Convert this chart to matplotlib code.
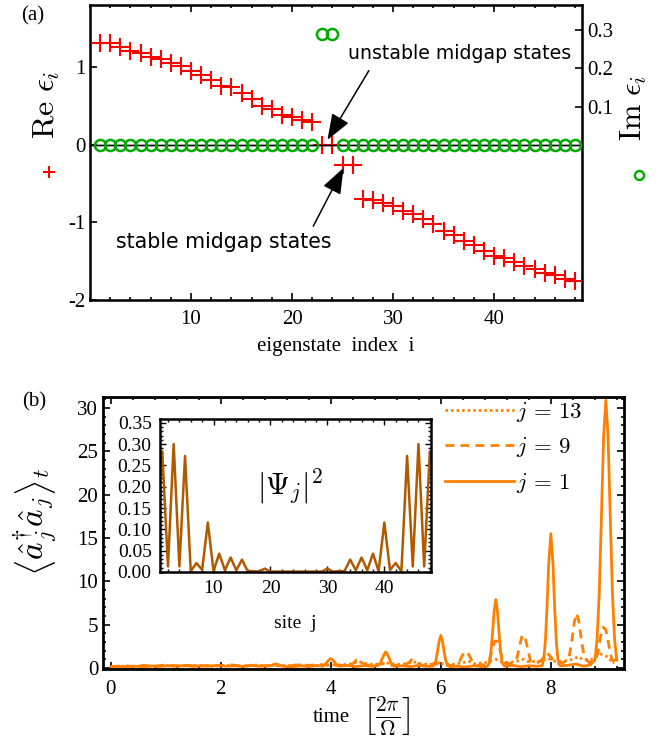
"""
Eigenvalue spectrum (a) and occupation dynamics with edge-state inset (b).
"""

import matplotlib.pyplot as plt
from matplotlib.lines import Line2D
from matplotlib.ticker import MultipleLocator

plt.rcParams["font.family"] = ["Liberation Serif", "DejaVu Serif"]
plt.rcParams["mathtext.fontset"] = "cm"
plt.rcParams["axes.unicode_minus"] = False
plt.rcParams["xtick.direction"] = "in"
plt.rcParams["ytick.direction"] = "in"

RED = "#ff0000"
GREEN = "#00aa00"
ORANGE = "#ff8000"
BROWN = "#b05a00"
W, H = 672, 746

# ---- panel (a): eigenvalues ----
INDEX = list(range(1, 49))
RE_EIG = [
    1.31, 1.30, 1.26, 1.20, 1.175, 1.125, 1.10, 1.045, 1.005, 0.94, 0.90,
    0.835, 0.75, 0.74, 0.66, 0.58, 0.49, 0.455, 0.385, 0.36, 0.32, 0.29,
    0.0, 0.0, -0.265, -0.265,
    -0.705, -0.715, -0.75, -0.79, -0.855, -0.895, -0.96, -1.025, -1.11,
    -1.165, -1.24, -1.295, -1.365, -1.44, -1.455, -1.515, -1.56, -1.60,
    -1.655, -1.68, -1.73, -1.75,
]
IM_EIG = [0.0] * 22 + [0.29, 0.29] + [0.0] * 24

# ---- panel (b): occupation vs time ----
T1 = [
    0.0, 0.15, 0.3, 0.45, 0.6, 0.75, 0.9, 1.05, 1.2, 1.35, 1.5, 1.65, 1.8, 1.95, 2.1, 2.25, 2.4, 2.55, 2.7, 2.85,
    2.92, 2.96, 3.0, 3.04, 3.08, 3.15, 3.3, 3.45, 3.6, 3.75, 3.85,
    3.9, 3.94, 3.97, 4.0, 4.03, 4.06, 4.1, 4.15, 4.3, 4.45, 4.6, 4.75, 4.85,
    4.9, 4.94, 4.97, 5.0, 5.03, 5.06, 5.1, 5.15, 5.3, 5.45, 5.6, 5.75, 5.85,
    5.88, 5.91, 5.94, 5.97, 6.0, 6.03, 6.06, 6.09, 6.12, 6.16, 6.3, 6.45, 6.6, 6.75, 6.85,
    6.88, 6.91, 6.94, 6.97, 7.0, 7.03, 7.06, 7.09, 7.12, 7.16, 7.3, 7.45, 7.6, 7.75, 7.84,
    7.87, 7.9, 7.93, 7.96, 8.0, 8.04, 8.07, 8.1, 8.13, 8.17, 8.3, 8.45, 8.6, 8.72,
    8.8, 8.84, 8.88, 8.92, 8.96, 9.0, 9.04, 9.08, 9.12, 9.16, 9.2,
]
N1 = [
    0.10, 0.15, 0.12, 0.20, 0.15, 0.22, 0.18, 0.25, 0.20, 0.28, 0.18, 0.25, 0.22, 0.30, 0.20, 0.25, 0.18, 0.28, 0.20, 0.22,
    0.30, 0.40, 0.46, 0.40, 0.30, 0.18, 0.12, 0.25, 0.15, 0.30, 0.20,
    0.40, 0.75, 0.95, 1.08, 0.95, 0.75, 0.40, 0.20, 0.30, 0.15, 0.28, 0.20, 0.25,
    0.50, 1.15, 1.55, 1.85, 1.55, 1.15, 0.50, 0.20, 0.25, 0.15, 0.30, 0.18, 0.20,
    0.35, 0.85, 1.90, 3.10, 3.75, 3.10, 1.90, 0.85, 0.35, 0.15, 0.20, 0.10, 0.25, 0.15, 0.20,
    0.55, 1.70, 3.95, 6.60, 7.90, 6.60, 3.95, 1.70, 0.55, 0.20, 0.30, 0.15, 0.25, 0.20, 0.25,
    0.95, 3.00, 6.90, 11.9, 15.5, 11.9, 6.90, 3.00, 0.95, 0.25, 0.30, 0.45, 0.20, 0.35,
    0.90, 3.20, 8.60, 17.5, 26.8, 30.9, 26.8, 17.5, 8.60, 3.20, 0.90,
]
T9 = [
    0.0, 0.2, 0.4, 0.6, 0.8, 1.0, 1.2, 1.4, 1.6, 1.8, 2.0, 2.2, 2.4, 2.6, 2.8, 3.0, 3.2, 3.4, 3.6, 3.8, 4.0, 4.2,
    4.35, 4.42, 4.47, 4.52, 4.57, 4.65, 4.8, 4.95, 5.1, 5.3,
    5.42, 5.47, 5.52, 5.57, 5.65, 5.8, 5.95, 6.1, 6.25,
    6.33, 6.38, 6.43, 6.48, 6.53, 6.58, 6.65, 6.8,
    6.88, 6.93, 6.98, 7.03, 7.08, 7.13, 7.2, 7.3,
    7.38, 7.43, 7.48, 7.53, 7.58, 7.63, 7.72,
    7.82, 7.88, 7.94, 8.0, 8.06, 8.15, 8.25,
    8.33, 8.38, 8.43, 8.47, 8.51, 8.56, 8.61, 8.7, 8.8,
    8.85, 8.9, 8.95, 9.0, 9.05, 9.1, 9.15, 9.2,
]
N9 = [
    0.15, 0.25, 0.20, 0.30, 0.20, 0.35, 0.25, 0.30, 0.20, 0.30, 0.25, 0.35, 0.20, 0.30, 0.25, 0.30, 0.20, 0.35, 0.30, 0.40, 0.30, 0.30,
    0.30, 0.60, 0.95, 0.95, 0.60, 0.30, 0.35, 0.50, 0.30, 0.30,
    0.60, 0.95, 0.95, 0.60, 0.30, 0.40, 0.60, 0.30, 0.30,
    0.60, 1.30, 1.85, 1.85, 1.30, 0.60, 0.30, 0.40,
    0.80, 2.00, 3.10, 3.10, 2.00, 0.80, 0.40, 0.60,
    1.00, 2.50, 3.80, 3.60, 2.20, 0.80, 0.50,
    0.80, 1.40, 1.70, 1.30, 0.60, 0.50, 0.70,
    1.20, 3.00, 5.40, 6.30, 5.40, 3.00, 1.20, 0.60, 0.90,
    1.60, 3.50, 4.70, 4.40, 2.80, 1.20, 0.60, 0.80,
]
T13 = [
    0.0, 0.2, 0.4, 0.6, 0.8, 1.0, 1.2, 1.4, 1.6, 1.8, 2.0, 2.2, 2.4, 2.6, 2.8, 3.0, 3.2, 3.4, 3.6, 3.8, 4.0,
    4.2, 4.4, 4.5, 4.6, 4.8, 5.0, 5.2, 5.4, 5.5, 5.6, 5.8, 6.0, 6.2, 6.4, 6.5, 6.6, 6.8,
    7.0, 7.1, 7.25, 7.4, 7.5, 7.6, 7.8, 7.95, 8.1, 8.25, 8.4, 8.5, 8.6, 8.75, 8.9, 9.0, 9.1, 9.2,
]
N13 = [
    0.10, 0.20, 0.15, 0.25, 0.20, 0.30, 0.20, 0.25, 0.30, 0.20, 0.25, 0.30, 0.20, 0.35, 0.25, 0.30, 0.25, 0.35, 0.30, 0.25, 0.35,
    0.35, 0.50, 0.80, 0.50, 0.40, 0.60, 0.40, 0.50, 0.75, 0.50, 0.40, 0.50, 0.40, 0.60, 0.80, 0.50, 0.60,
    1.00, 0.70, 0.60, 0.80, 1.00, 0.70, 0.80, 1.10, 0.70, 0.80, 1.00, 1.30, 0.90, 1.00, 1.60, 1.40, 0.80, 1.00,
]

# ---- inset: edge-state weight per site ----
SITE = list(range(1, 49))
PSI_SQ = [
    0.282, 0.013, 0.300, 0.013, 0.272, 0.002, 0.021, 0.005, 0.116, 0.002, 0.043, 0.004,
    0.034, 0.004, 0.029, 0.002, 0.002, 0.001, 0.008, 0.001, 0.001, 0.001, 0.001, 0.001,
    0.001, 0.001, 0.001, 0.001, 0.001, 0.008, 0.001, 0.002, 0.002, 0.029, 0.004, 0.034,
    0.004, 0.043, 0.002, 0.116, 0.005, 0.021, 0.002, 0.272, 0.013, 0.300, 0.013, 0.282,
]


def px_box(left, top, right, bottom):
    return [left / W, 1 - bottom / H, (right - left) / W, (bottom - top) / H]


def fig_xy(x, y):
    return x / W, 1 - y / H


def main():
    fig = plt.figure(figsize=(W / 100, H / 100), dpi=100)

    ## PANEL (a)
    ax_a = fig.add_axes(px_box(90, 5, 582, 300))
    ax_a.axhline(0, color="black", lw=1.0, zorder=1)
    ax_a.plot(INDEX, RE_EIG, ls="none", marker="+", ms=13.5, mew=1.5, color=RED, zorder=3)
    ax_a.set_xlim(0, 48.7)
    ax_a.set_ylim(-1.99, 1.795)
    ax_a.set_xticks([10, 20, 30, 40])
    ax_a.xaxis.set_minor_locator(MultipleLocator(2))
    ax_a.set_yticks([-2, -1, 0, 1])
    ax_a.set_yticklabels(["-2", "-1", "0", "1"])
    ax_a.tick_params(which="both", top=True, labelsize=15, width=1.2)
    ax_a.tick_params(which="major", length=5)
    ax_a.tick_params(which="minor", length=2.5)
    ax_a.tick_params(axis="x", pad=7)
    for sp in ax_a.spines.values():
        sp.set_linewidth(1.8)

    ax_im = ax_a.twinx()
    ax_im.plot(INDEX, IM_EIG, ls="none", marker="o", ms=8, mfc="none", mec=GREEN, mew=1.8, zorder=3)
    ax_im.set_ylim(-0.4047, 0.3655)
    ax_im.set_yticks([0.1, 0.2, 0.3])
    ax_im.set_yticklabels(["0.1", "0.2", "0.3"])
    ax_im.tick_params(labelsize=15, length=5, width=1.2)
    ax_im.axhline(0, color="black", lw=1.0, zorder=1)

    ax_a.text(25.5, 1.17, "unstable midgap states", family="DejaVu Sans",
              fontsize=13.6, ha="left", va="center")
    ax_a.text(13.2, -1.256, "stable midgap states", family="DejaVu Sans",
              fontsize=14.8, ha="center", va="center")
    arrow = dict(arrowstyle="-|>,head_length=0.8,head_width=0.3", color="black",
                 lw=1.1, mutation_scale=20, shrinkA=0, shrinkB=0)
    ax_a.annotate("", xy=(23.5, 0.06), xytext=(27.6, 0.95), arrowprops=arrow)
    ax_a.annotate("", xy=(25.1, -0.30), xytext=(22.1, -1.05), arrowprops=arrow)

    fig.text(*fig_xy(33, 16), "(a)", fontsize=15, ha="center", va="center")
    fig.text(*fig_xy(47, 105), r"$\mathrm{Re}\ \epsilon_i$", fontsize=23,
             rotation=90, ha="center", va="center")
    fig.add_artist(Line2D([49 / W], [1 - 172 / H], transform=fig.transFigure,
                          marker="+", ms=8, mew=1.5, color=RED))
    fig.text(*fig_xy(634, 108), r"$\mathrm{Im}\ \epsilon_i$", fontsize=22,
             rotation=90, ha="center", va="center")
    fig.add_artist(Line2D([639 / W], [1 - 175 / H], transform=fig.transFigure,
                          marker="o", ms=6.5, mfc="none", mew=1.7, color=GREEN))
    fig.text(*fig_xy(336, 346), "eigenstate  index  i", fontsize=15,
             ha="center", va="center")

    ## PANEL (b)
    ax_b = fig.add_axes(px_box(103, 397, 624, 669))
    l13, = ax_b.plot(T13, N13, color=ORANGE, lw=2.0, ls=(0, (0.9, 1.1)))
    l9, = ax_b.plot(T9, N9, color=ORANGE, lw=2.0, ls=(0, (3.2, 2.2)))
    l1, = ax_b.plot(T1, N1, color=ORANGE, lw=2.0)
    ax_b.set_xlim(-0.14, 9.33)
    ax_b.set_ylim(-0.12, 31.27)
    ax_b.set_xticks([0, 2, 4, 6, 8])
    ax_b.xaxis.set_minor_locator(MultipleLocator(0.4))
    ax_b.set_yticks([0, 5, 10, 15, 20, 25, 30])
    ax_b.yaxis.set_minor_locator(MultipleLocator(1))
    ax_b.tick_params(which="both", top=True, right=True, labelsize=15, width=1.2)
    ax_b.tick_params(which="major", length=5)
    ax_b.tick_params(which="minor", length=2.5)
    ax_b.tick_params(axis="x", pad=8)
    for sp in ax_b.spines.values():
        sp.set_linewidth(2.0)
    ax_b.legend([l13, l9, l1], [r"$j\,=\,13$", r"$j\,=\,9$", r"$j\,=\,1$"],
                loc="upper left", bbox_to_anchor=((445 - 103) / 521, (669 - 400) / 272),
                frameon=False, fontsize=16.5, handlelength=3.0, handletextpad=0.1,
                labelspacing=0.5, borderpad=0, borderaxespad=0)

    fig.text(*fig_xy(34, 402), "(b)", fontsize=15, ha="center", va="center")
    fig.text(*fig_xy(36, 522), r"$\left\langle \hat{a}_j^{\dagger}\hat{a}_j \right\rangle_t$",
             fontsize=24, rotation=90, ha="center", va="center")
    fig.text(*fig_xy(350, 718), "time", fontsize=15, ha="right", va="center")
    fig.text(*fig_xy(362, 717), r"$\left[\frac{2\pi}{\Omega}\right]$",
             fontsize=22, ha="left", va="center")

    ## INSET
    ax_in = fig.add_axes(px_box(160, 419, 431, 572))
    ax_in.plot(SITE, PSI_SQ, color=BROWN, lw=1.8)
    ax_in.set_xlim(0.6, 48.2)
    ax_in.set_ylim(0, 0.3587)
    ax_in.set_xticks([10, 20, 30, 40])
    ax_in.xaxis.set_minor_locator(MultipleLocator(2))
    ax_in.set_yticks([0.0, 0.05, 0.10, 0.15, 0.20, 0.25, 0.30, 0.35])
    ax_in.set_yticklabels(["0.00", "0.05", "0.10", "0.15", "0.20", "0.25", "0.30", "0.35"])
    ax_in.yaxis.set_minor_locator(MultipleLocator(0.01))
    ax_in.tick_params(which="both", top=True, right=True, labelsize=14, width=1.0)
    ax_in.tick_params(which="major", length=4, pad=6)
    ax_in.tick_params(which="minor", length=2)
    for sp in ax_in.spines.values():
        sp.set_linewidth(1.8)
    ax_in.text(0.48, 0.56, r"$\left|\Psi_j\right|^2$", transform=ax_in.transAxes,
               fontsize=22, ha="center", va="center")
    fig.text(*fig_xy(295, 623), "site  j", fontsize=14, ha="center", va="center")

    plt.savefig("out.png", dpi=100)


if __name__ == "__main__":
    main()
